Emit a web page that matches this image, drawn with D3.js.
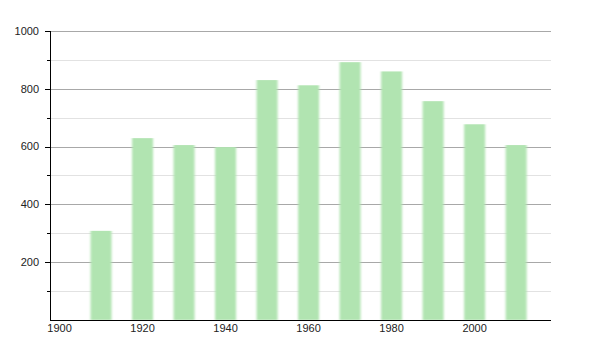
<!DOCTYPE html>
<html><head><meta charset="utf-8">
<script src="https://cdn.jsdelivr.net/npm/d3@7"></script>
<style>body{margin:0;background:#fff}svg{display:block}text{font-family:"Liberation Sans",Arial,sans-serif;font-size:11px;fill:#222}</style>
</head><body>
<svg id="c" width="600" height="350"></svg>
<script>
const years = [1910,1920,1930,1940,1950,1960,1970,1980,1990,2000,2010];
const values = [308,629,605,598,830,812,892,860,757,677,605];
const xTicks = [1900,1920,1940,1960,1980,2000];
const yMajor = [200,400,600,800,1000];
const yMinor = [100,300,500,700,900];

const svg = d3.select("#c");
const x = d3.scaleLinear().domain([1897.7,2018.4]).range([50,551]);
const y = d3.scaleLinear().domain([0,1000]).range([319.8,31]);

const defs = svg.append("defs");
defs.append("filter").attr("id","blur").attr("x","-20%").attr("width","140%")
  .append("feGaussianBlur").attr("stdDeviation","0.9 0");

svg.append("g").selectAll("line").data(yMinor).join("line")
  .attr("x1",50).attr("x2",551).attr("y1",d=>Math.round(y(d))+0.5).attr("y2",d=>Math.round(y(d))+0.5)
  .attr("stroke","#e2e2e2").attr("stroke-width",1);
svg.append("g").selectAll("line").data(yMajor).join("line")
  .attr("x1",50).attr("x2",551).attr("y1",d=>Math.round(y(d))+0.5).attr("y2",d=>Math.round(y(d))+0.5)
  .attr("stroke","#a8a8a8").attr("stroke-width",1);

const bw = 21;
svg.append("g").attr("filter","url(#blur)").selectAll("rect").data(years).join("rect")
  .attr("x",d=>x(d)-bw/2).attr("width",bw)
  .attr("y",(d,i)=>y(values[i])).attr("height",(d,i)=>y(0)-y(values[i]))
  .attr("fill","#b1e4b1");

// y axis
const ya = svg.append("g");
ya.append("line").attr("x1",50.5).attr("x2",50.5).attr("y1",31).attr("y2",320).attr("stroke","#000");
ya.selectAll(".mj").data(yMajor).join("line").attr("class","mj")
  .attr("x1",45).attr("x2",50).attr("y1",d=>Math.round(y(d))+0.5).attr("y2",d=>Math.round(y(d))+0.5).attr("stroke","#000");
ya.selectAll(".mn").data(yMinor).join("line").attr("class","mn")
  .attr("x1",47).attr("x2",50).attr("y1",d=>Math.round(y(d))+0.5).attr("y2",d=>Math.round(y(d))+0.5).attr("stroke","#000");
ya.selectAll("text").data(yMajor).join("text")
  .attr("x",39).attr("y",d=>y(d)).attr("dy","0.35em").attr("text-anchor","end").text(d=>d);

// x axis
const xa = svg.append("g");
xa.append("line").attr("x1",50).attr("x2",551).attr("y1",320.5).attr("y2",320.5).attr("stroke","#000");
xa.selectAll("text").data(xTicks).join("text")
  .attr("x",d=>x(d)).attr("y",332).attr("text-anchor","middle").text(d=>d);
</script>
</body></html>
